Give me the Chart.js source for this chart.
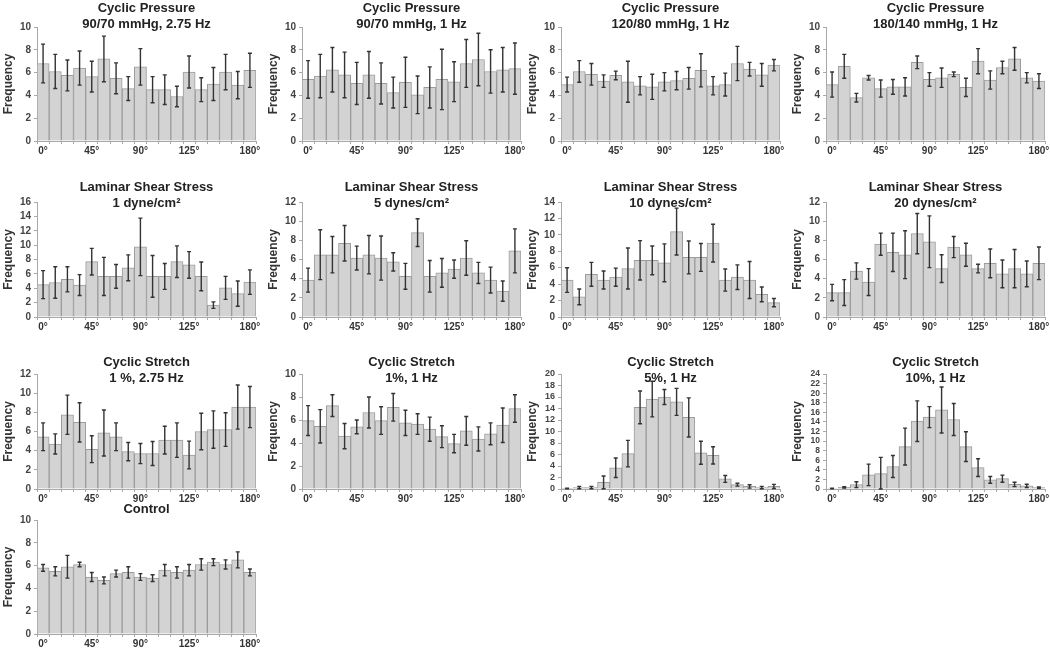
<!DOCTYPE html>
<html>
<head>
<meta charset="utf-8">
<script src="https://cdn.jsdelivr.net/npm/chart.js@4.4.1/dist/chart.umd.min.js"></script>
<style>
  html, body { margin: 0; padding: 0; background: #ffffff; }
  #wrap { position: relative; width: 1050px; height: 660px; overflow: hidden; background: #fff; }
  #wrap canvas { position: absolute; }
</style>
</head>
<body>
<div id="wrap"></div>
<script>
// ---------- tick labels (18 bins of 10 degrees) ----------
const angleLabels = ['0°','','','','45°','','','','90°','','','','125°','','','','','180°'];

// ---------- data: means and error (SD) per panel ----------
const cp1Mean = [6.8,6.1,5.75,6.4,5.65,7.2,5.5,4.6,6.5,4.5,4.5,3.9,6.05,4.5,5.0,6.05,4.9,6.2];
const cp1Err  = [1.7,1.5,1.35,1.5,1.35,2.0,1.35,1.05,1.6,1.15,1.3,0.9,1.4,1.05,1.45,1.55,1.2,1.5];

const cp2Mean = [5.4,5.7,6.25,5.8,5.05,5.8,5.05,4.25,5.15,4.05,4.7,5.4,5.2,6.8,7.15,6.1,6.25,6.35];
const cp2Err  = [1.65,1.9,1.95,2.0,1.85,2.05,1.8,1.35,2.2,1.65,1.8,2.65,1.75,2.1,2.3,1.9,1.95,2.25];

const cp3Mean = [4.95,6.1,5.85,5.25,5.75,5.2,4.85,4.75,5.2,5.3,5.5,6.2,4.85,4.95,6.8,6.3,5.8,6.65];
const cp3Err  = [0.65,0.95,0.95,0.55,0.38,1.8,0.8,1.1,0.8,0.8,0.95,1.45,0.8,1.0,1.5,0.6,1.0,0.5];

const cp4Mean = [4.95,6.55,3.8,5.55,4.6,4.75,4.75,6.9,5.4,5.55,5.85,4.7,7.0,5.35,6.45,7.2,5.55,5.25];
const cp4Err  = [1.1,1.05,0.38,0.2,0.75,0.65,0.8,0.55,0.6,0.85,0.2,0.8,1.1,0.8,0.55,1.0,0.45,0.65];

const ls1Mean = [4.5,4.8,5.25,4.45,7.7,5.65,5.65,6.85,9.75,5.65,5.65,7.7,7.25,5.65,1.65,4.05,3.25,4.85];
const ls1Err  = [1.95,2.2,1.75,1.45,1.85,2.65,1.65,1.8,4.0,2.9,1.8,2.2,1.85,2.0,0.45,1.6,1.75,1.7];

const ls5Mean = [3.85,6.5,6.5,7.7,6.15,6.5,6.15,5.75,4.25,8.8,4.25,4.6,5.0,6.15,4.6,3.85,2.7,6.9];
const ls5Err  = [1.25,2.6,1.9,1.85,1.25,2.0,2.3,0.95,1.35,1.45,1.65,1.5,0.95,1.8,1.1,1.35,1.05,2.3];

const ls10Mean = [4.5,2.45,5.2,4.5,4.85,5.9,6.9,6.9,6.6,10.4,7.25,7.25,9.0,4.5,4.85,4.5,2.75,1.75];
const ls10Err  = [1.5,0.95,1.45,1.1,1.1,2.5,2.4,1.75,2.3,2.85,2.0,1.7,2.3,1.35,1.5,2.25,0.9,0.5];

const ls20Mean = [2.55,2.55,4.8,3.65,7.6,6.75,6.5,8.7,7.85,5.05,7.3,6.5,5.05,5.6,4.5,5.05,4.5,5.6];
const ls20Err  = [0.85,1.35,0.85,1.4,1.15,2.0,2.5,2.1,2.7,1.45,1.1,1.2,0.45,1.5,1.45,2.0,1.35,1.7];

const cs1aMean = [5.45,4.7,7.75,6.95,4.15,5.85,5.45,3.9,3.7,3.7,5.1,5.1,3.55,6.0,6.2,6.2,8.55,8.55];
const cs1aErr  = [1.45,1.05,2.05,2.05,1.4,2.4,1.45,0.95,1.05,1.25,1.45,1.8,1.45,1.9,1.95,1.75,2.3,2.15];

const cs1bMean = [5.95,5.45,7.25,4.6,5.4,6.65,5.95,7.1,5.75,5.65,5.2,4.55,3.95,5.05,4.35,4.8,5.55,7.0];
const cs1bErr  = [1.3,1.45,0.95,1.1,0.6,1.35,1.2,1.2,1.1,0.9,1.05,0.95,0.8,1.25,1.05,0.95,1.5,1.2];

const cs5Mean = [0.1,0.25,0.25,1.15,3.7,6.15,14.2,15.65,16.0,15.15,12.45,6.3,5.85,1.75,0.75,0.45,0.25,0.45];
const cs5Err  = [0.05,0.2,0.2,1.1,1.7,2.3,2.85,3.1,1.3,2.35,3.4,2.0,1.5,0.6,0.25,0.3,0.2,0.35];

const cs10Mean = [0.1,0.35,0.9,2.95,3.2,4.7,8.85,14.15,15.0,16.5,14.5,8.85,4.45,1.9,2.15,0.95,0.65,0.3];
const cs10Err  = [0.05,0.15,0.6,2.25,3.4,2.3,3.85,4.25,2.2,4.8,3.35,3.1,1.85,0.7,0.75,0.45,0.35,0.15];

const ctrlMean = [5.8,5.5,5.9,6.1,5.0,4.7,5.3,5.4,5.0,4.9,5.6,5.4,5.6,6.1,6.3,6.1,6.5,5.4];
const ctrlErr  = [0.3,0.4,1.0,0.2,0.4,0.3,0.3,0.5,0.3,0.3,0.5,0.5,0.5,0.5,0.3,0.4,0.7,0.3];

// ---------- titles and y-axis ranges ----------
const panelTitles = [
  ['Cyclic Pressure','90/70 mmHg, 2.75 Hz'],
  ['Cyclic Pressure','90/70 mmHg, 1 Hz'],
  ['Cyclic Pressure','120/80 mmHg, 1 Hz'],
  ['Cyclic Pressure','180/140 mmHg, 1 Hz'],
  ['Laminar Shear Stress','1 dyne/cm²'],
  ['Laminar Shear Stress','5 dynes/cm²'],
  ['Laminar Shear Stress','10 dynes/cm²'],
  ['Laminar Shear Stress','20 dynes/cm²'],
  ['Cyclic Stretch','1 %, 2.75 Hz'],
  ['Cyclic Stretch','1%, 1 Hz'],
  ['Cyclic Stretch','5%, 1 Hz'],
  ['Cyclic Stretch','10%, 1 Hz'],
  ['Control']
];
const yMaxes = [10,10,10,10, 16,12,14,12, 12,10,20,24, 10];
const yStep = 2;
const yTickSizes = [10,10,10,10, 10,10,10,10, 10,10,9,8.5, 10];

// ---------- layout (positions only) ----------
const colX = [0, 265, 524, 789];
const rows = [
  {y: 0,   h: 161, pad: -5},
  {y: 179, h: 158, pad: -9},
  {y: 354, h: 155, pad: -12},
  {y: 501, h: 153, pad: 3}
];
const CANVAS_W = 261;
const FONT = "'Liberation Sans', Arial, Helvetica, sans-serif";

const errorBarPlugin = {
  id: 'errorBars',
  afterDatasetsDraw(chart) {
    const ctx = chart.ctx;
    const yScale = chart.scales.y;
    chart.data.datasets.forEach((ds, di) => {
      const meta = chart.getDatasetMeta(di);
      const errs = ds.errorBars || [];
      ctx.save();
      ctx.strokeStyle = '#333';
      ctx.lineWidth = 1.4;
      meta.data.forEach((bar, i) => {
        const v = ds.data[i], e = errs[i];
        if (e == null) return;
        const x = bar.x;
        const yTop = yScale.getPixelForValue(v + e);
        const yBot = yScale.getPixelForValue(Math.max(0, v - e));
        ctx.beginPath();
        ctx.moveTo(x, yTop); ctx.lineTo(x, yBot);
        ctx.moveTo(x - 2, yTop); ctx.lineTo(x + 2, yTop);
        ctx.moveTo(x - 2, yBot); ctx.lineTo(x + 2, yBot);
        ctx.stroke();
      });
      ctx.restore();
    });
  }
};

const panels = [
  [cp1Mean, cp1Err], [cp2Mean, cp2Err], [cp3Mean, cp3Err], [cp4Mean, cp4Err],
  [ls1Mean, ls1Err], [ls5Mean, ls5Err], [ls10Mean, ls10Err], [ls20Mean, ls20Err],
  [cs1aMean, cs1aErr], [cs1bMean, cs1bErr], [cs5Mean, cs5Err], [cs10Mean, cs10Err],
  [ctrlMean, ctrlErr]
];

const wrap = document.getElementById('wrap');
panels.forEach((p, idx) => {
  const r = rows[Math.floor(idx / 4)];
  const cx = colX[idx % 4];
  const cv = document.createElement('canvas');
  cv.width = CANVAS_W; cv.height = r.h;
  cv.style.left = cx + 'px'; cv.style.top = r.y + 'px';
  cv.style.width = CANVAS_W + 'px'; cv.style.height = r.h + 'px';
  wrap.appendChild(cv);

  new Chart(cv.getContext('2d'), {
    type: 'bar',
    data: {
      labels: angleLabels,
      datasets: [{
        data: p[0],
        errorBars: p[1],
        backgroundColor: '#d3d3d3',
        borderColor: '#9c9c9c',
        borderWidth: 1,
        barPercentage: 1,
        categoryPercentage: 1
      }]
    },
    options: {
      responsive: false,
      animation: false,
      devicePixelRatio: 1,
      layout: { padding: { left: 0, right: 5, top: 0, bottom: 0 } },
      plugins: {
        legend: { display: false },
        tooltip: { enabled: false },
        title: {
          display: true,
          fullSize: false,
          text: panelTitles[idx],
          color: '#222',
          font: { family: FONT, size: 13, weight: 'bold', lineHeight: '16px' },
          padding: { top: 0, bottom: r.pad }
        }
      },
      scales: {
        x: {
          offset: true,
          ticks: {
            autoSkip: false, maxRotation: 0, minRotation: 0,
            color: '#333', padding: 1,
            font: { family: FONT, size: 10, weight: 'bold' }
          },
          grid: { offset: true, drawOnChartArea: false, drawTicks: true, tickLength: 3, color: '#a8a8a8' },
          border: { display: true, color: '#a8a8a8' },
          afterFit(s) { s.height = 20; s.paddingLeft = 0; s.paddingRight = 0; }
        },
        y: {
          min: 0, max: yMaxes[idx],
          ticks: {
            stepSize: yStep, autoSkip: false, color: '#444', padding: 3,
            font: { family: FONT, size: yTickSizes[idx], weight: 'bold' }
          },
          grid: { drawOnChartArea: false, drawTicks: true, tickLength: 3, color: '#a8a8a8' },
          border: { display: true, color: '#a8a8a8' },
          title: {
            display: true, text: 'Frequency', color: '#333',
            font: { family: FONT, size: 12, weight: 'bold' },
            padding: { top: 1, bottom: 0 }
          },
          afterFit(s) { s.width = 37; s.paddingTop = 0; s.paddingBottom = 0; }
        }
      }
    },
    plugins: [errorBarPlugin]
  });
});
</script>
</body>
</html>
